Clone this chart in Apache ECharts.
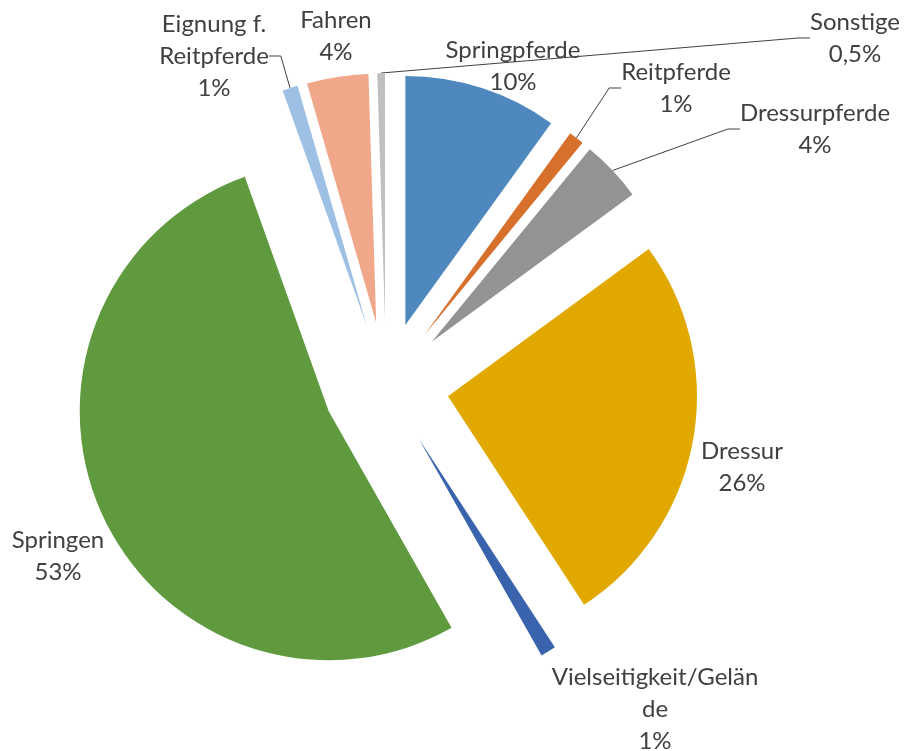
<!DOCTYPE html>
<html>
<head>
<meta charset="utf-8">
<script src="https://cdn.jsdelivr.net/npm/echarts@6/dist/echarts.min.js"></script>
<style>
html,body{margin:0;padding:0;background:#fff;}
#chart{width:905px;height:751px;}
</style>
</head>
<body>
<div id="chart"></div>
<script>
// Data
const categories = ['Springpferde', 'Reitpferde', 'Dressurpferde', 'Dressur', 'Vielseitigkeit/Gelände', 'Springen', 'Eignung f. Reitpferde', 'Fahren', 'Sonstige'];
const shares = [10, 1, 4, 26, 1, 53, 1, 4, 0.5];
const labelNames = ['Springpferde', 'Reitpferde', 'Dressurpferde', 'Dressur', 'Vielseitigkeit/Gelän\nde', 'Springen', 'Eignung f.\nReitpferde', 'Fahren', 'Sonstige'];

// Styling / layout
const colors = ['#4F88BE', '#D6702B', '#939393', '#E1A900', '#3A63AD', '#5F9A3F', '#9DC0E4', '#F0A78A', '#C0C0C0'];
const labelPos = [[513, 66], [676, 88], [815, 129], [742, 467], [655, 709], [58, 556], [214, 56], [336, 36], [855, 38]];
const leaderLine = [false, true, true, false, false, false, true, false, true];
const pieCenter = [386, 385];
const pieRadius = 249;
const explode = 63;

function fmtPct(v) {
  return String(v).replace('.', ',') + '%';
}

const chart = echarts.init(document.getElementById('chart'), null, { renderer: 'canvas' });
chart.setOption({
  animation: false,
  backgroundColor: '#ffffff',
  series: [
    {
      // visible exploded pie
      type: 'pie',
      center: pieCenter,
      radius: [0, pieRadius],
      startAngle: 90,
      clockwise: true,
      selectedMode: 'multiple',
      selectedOffset: explode,
      avoidLabelOverlap: false,
      emphasis: { disabled: true },
      itemStyle: { borderWidth: 0 },
      label: { show: false },
      labelLine: { show: false },
      data: categories.map(function (name, i) {
        return { name: name, value: shares[i], selected: true, itemStyle: { color: colors[i] } };
      })
    },
    {
      // invisible carrier for the labels and leader lines
      type: 'pie',
      silent: true,
      center: pieCenter,
      radius: [0, pieRadius + explode],
      startAngle: 90,
      clockwise: true,
      avoidLabelOverlap: false,
      emphasis: { disabled: true },
      itemStyle: { borderWidth: 0, color: 'rgba(0,0,0,0)' },
      label: {
        show: true,
        position: 'outside',
        fontFamily: 'Lato',
        fontSize: 24,
        lineHeight: 32,
        color: '#404040',
        align: 'center',
        formatter: function (p) {
          return labelNames[p.dataIndex] + '\n' + fmtPct(shares[p.dataIndex]);
        }
      },
      labelLine: {
        show: true,
        length: 10,
        length2: 12,
        lineStyle: { color: '#404040', width: 1 }
      },
      labelLayout: function (p) {
        const pos = labelPos[p.dataIndex];
        return { x: pos[0], y: pos[1], align: 'center', verticalAlign: 'middle', hideOverlap: false };
      },
      data: categories.map(function (name, i) {
        return {
          name: name,
          value: shares[i],
          labelLine: { show: leaderLine[i] }
        };
      })
    }
  ]
});
</script>
</body>
</html>
